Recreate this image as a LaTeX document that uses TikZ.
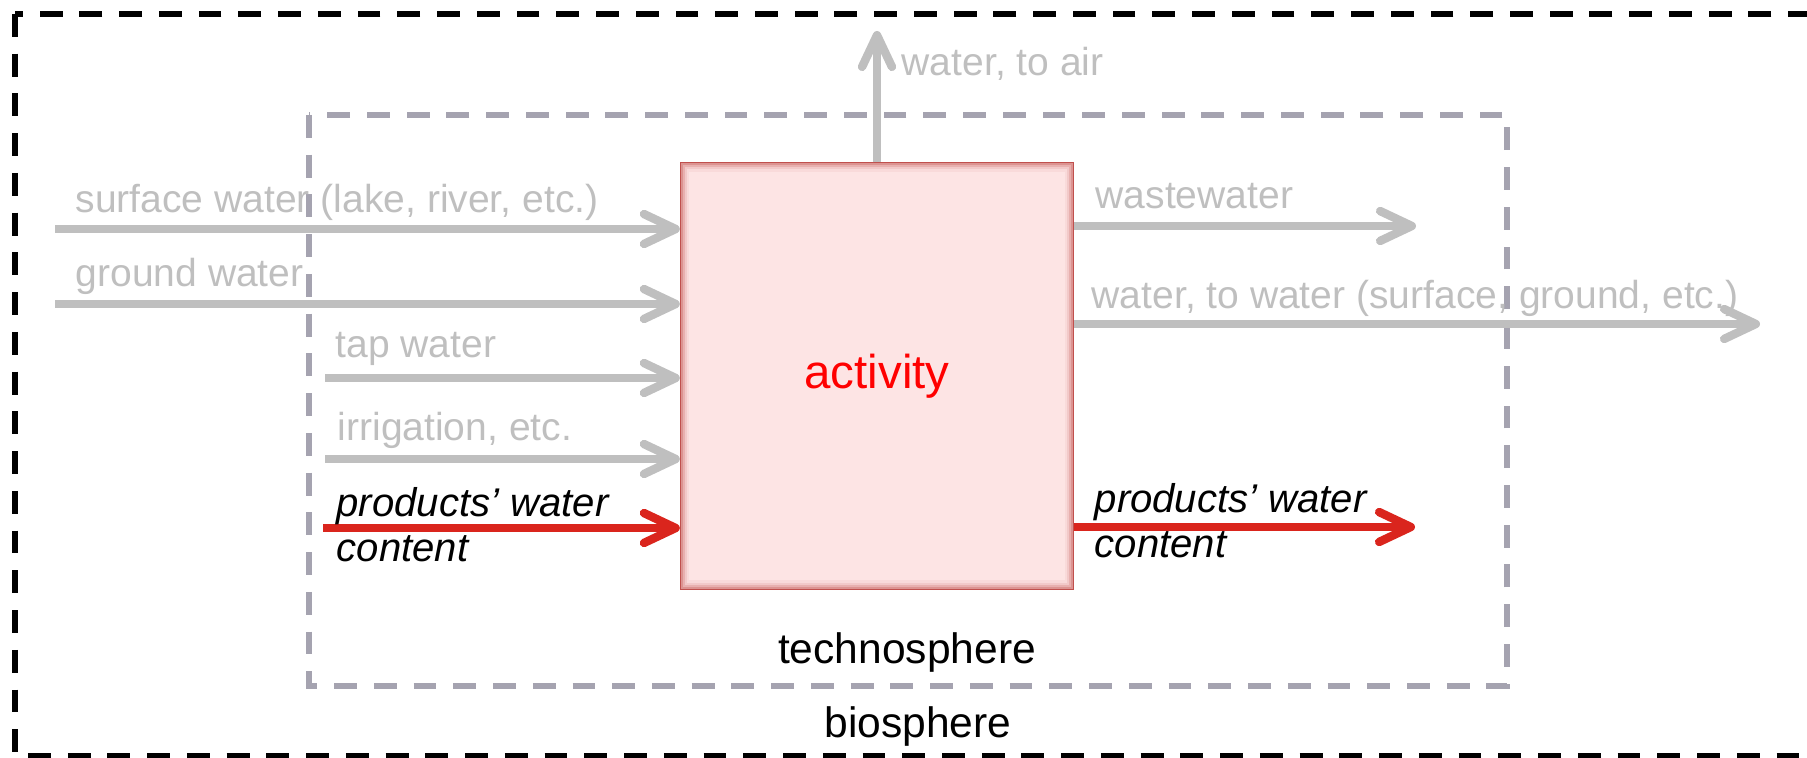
\documentclass[tikz,border=0pt]{standalone}
\usepackage{fontspec}
\setmainfont{Liberation Sans}
\usetikzlibrary{arrows.meta}

\definecolor{flowgray}{RGB}{191,191,191}
\definecolor{framegray}{RGB}{165,163,176}
\definecolor{flowred}{RGB}{218,37,29}
\definecolor{actfill}{RGB}{253,228,228}
\definecolor{actline}{RGB}{192,80,77}

\begin{document}
\begin{tikzpicture}[x=0.01cm, y=-0.01cm,
  flow/.style={draw=flowgray, line width=2.4pt, -{Straight Barb[length=9pt,width=8.5pt,round]}},
  redflow/.style={flow, draw=flowred},
  lbl/.style={anchor=base west, inner sep=0pt, text=flowgray, font=\fontsize{11.1}{13}\selectfont},
  prodlbl/.style={anchor=base west, inner sep=0pt, font=\fontsize{11.4}{13}\selectfont\itshape},
  spherelbl/.style={anchor=base, inner sep=0pt, font=\fontsize{12.1}{14}\selectfont},
  frame/.style={line width=1.5pt, dash pattern=on 6.5pt off 4.8pt},
  actbox/.style={draw=actline, line width=0.6pt, fill=actfill, text=red, font=\fontsize{13.5}{16}\selectfont, minimum width=3.92cm, minimum height=4.25cm, inner sep=0pt}]

\useasboundingbox (0,0) rectangle (1807,758);
\clip (0,0) rectangle (1807,758);

\draw[frame, black] (15,14) rectangle (1840,756);
\draw[frame, framegray] (309,115) rectangle (1507,686);

\node[actbox] (act) at (877,376) {activity};
\foreach \d/\c in {2/55, 4/35, 6/18, 8/7}
  \draw[actline!\c!actfill, line width=0.7pt] ([shift={(\d,\d)}]act.north west) rectangle ([shift={(-\d,-\d)}]act.south east);

\coordinate (surf) at (55,229);
\coordinate (ground) at (55,304);
\coordinate (tap) at (325,378);
\coordinate (irri) at (325,459);
\coordinate (prodin) at (323,528);
\coordinate (waste) at (1416,226);
\coordinate (towater) at (1760,324);
\coordinate (prodout) at (1415,527);
\coordinate (air) at (877,31);

\draw[flow] (surf) -- (surf -| act.west);
\draw[flow] (ground) -- (ground -| act.west);
\draw[flow] (tap) -- (tap -| act.west);
\draw[flow] (irri) -- (irri -| act.west);
\draw[redflow] (prodin) -- (prodin -| act.west);
\draw[flow] (act.east |- waste) -- (waste);
\draw[flow] (act.east |- towater) -- (towater);
\draw[redflow] (act.east |- prodout) -- (prodout);
\draw[flow] (act.north) -- (air);

\node[lbl] (surflbl) at (75,213) {surface water (lake, river, etc.)};
\node[lbl] (groundlbl) at (75,287) {ground water};
\node[lbl] (taplbl) at (335,357) {tap water};
\node[lbl] (irrilbl) at (337,440) {irrigation, etc.};
\node[prodlbl] (prodinlbl) at (336,516) {products’ water};
\node[prodlbl] (prodinlbl2) at (336,561) {content};
\node[lbl] (airlbl) at (901,76) {water, to air};
\node[lbl] (wastelbl) at (1095,209) {wastewater};
\node[lbl] (towaterlbl) at (1091,308) {water, to water (surface, ground, etc.)};
\node[prodlbl] (prodoutlbl) at (1094,512) {products’ water};
\node[prodlbl] (prodoutlbl2) at (1094,557) {content};

\node[spherelbl] (techno) at (907,663) {technosphere};
\node[spherelbl] (bio) at (918,737) {biosphere};

\end{tikzpicture}
\end{document}
